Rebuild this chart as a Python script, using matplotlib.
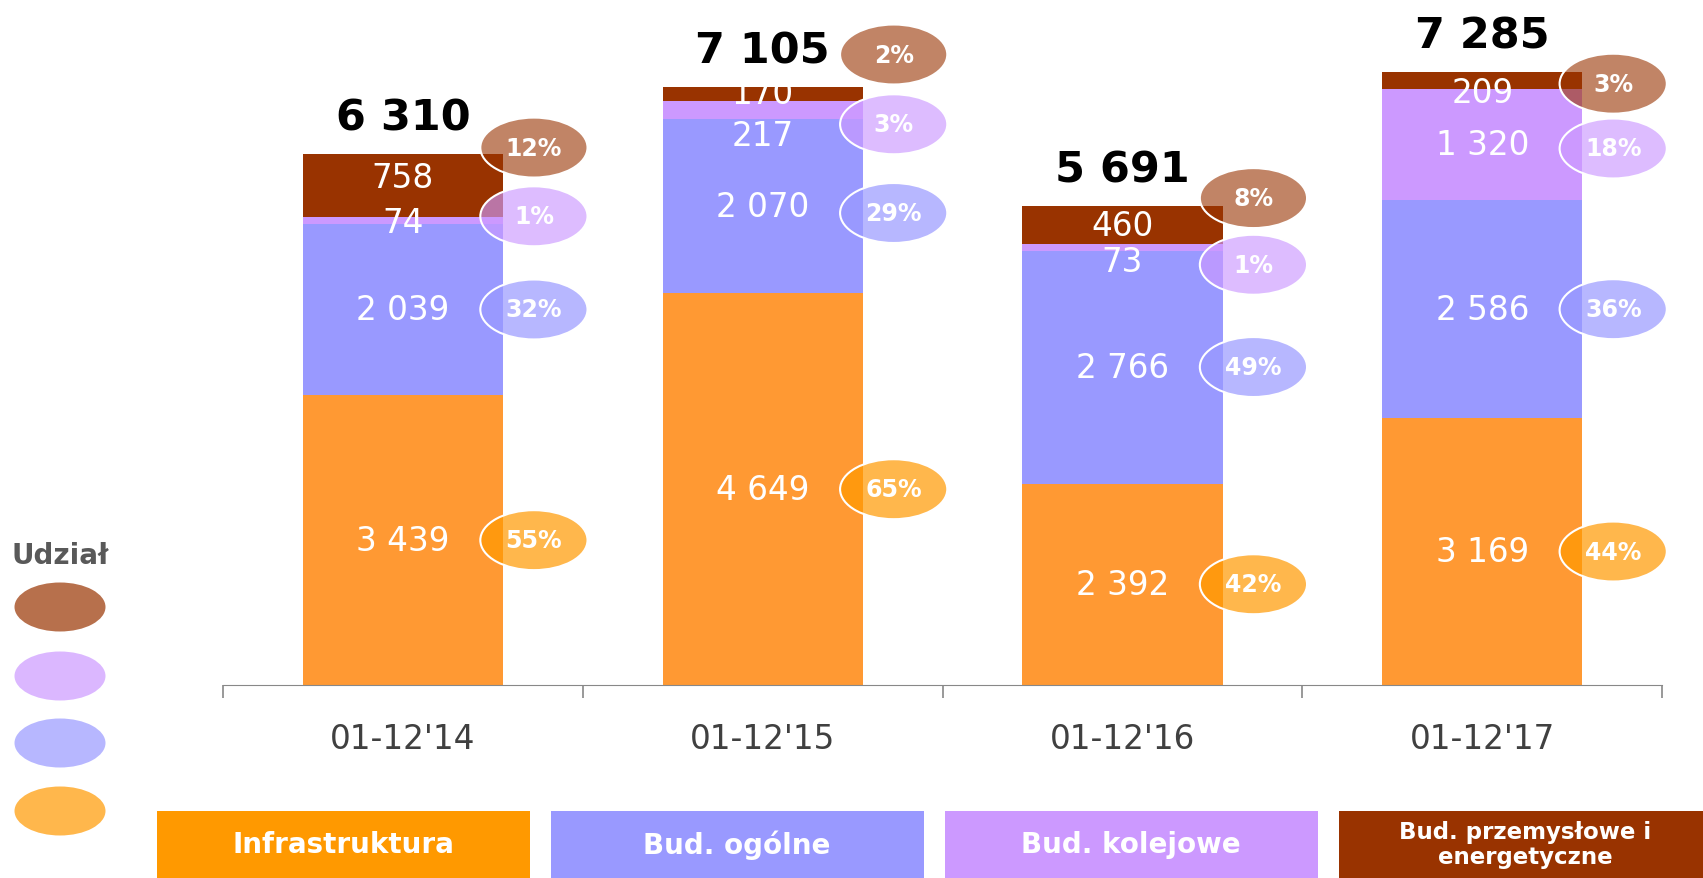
import numpy as np
import matplotlib.pyplot as plt
from matplotlib.patches import Ellipse, Rectangle

periods = ["01-12'14", "01-12'15", "01-12'16", "01-12'17"]
segments = ['Infrastruktura', 'Bud. ogólne', 'Bud. kolejowe', 'Bud. przemysłowe i\nenergetyczne']
infra = [3439, 4649, 2392, 3169]
ogolne = [2039, 2070, 2766, 2586]
kolejowe = [74, 217, 73, 1320]
energ = [758, 170, 460, 209]
totals = [6310, 7105, 5691, 7285]
shares = [[55, 65, 42, 44],
          [32, 29, 49, 36],
          [1, 3, 1, 18],
          [12, 2, 8, 3]]

bar_cols = ['#FF9933', '#9999FF', '#CC99FF', '#993300']
bub_cols = ['#FF9900', '#9999FF', '#CC99FF', '#993300']
bub_alpha = [0.7, 0.7, 0.65, 0.6]

# manual nudges (data units) so small segments don't collide
lab_shift = [[0, 0, 0, 0], [0, 0, 0, 0], [-25, -300, -170, 0], [90, 0, 0, -140]]
bub_shift = [[0, 0, 0, 0], [0, -80, 0, 0], [50, -170, -205, -45], [450, 465, 320, -40]]

def fmt(v):
    return '{:,}'.format(v).replace(',', ' ')

fig = plt.figure(figsize=(17.03, 8.79), dpi=100)
ax = fig.add_axes([0.131, 0.2196, 0.845, 0.7804])

x = np.arange(len(periods))
w = 0.556
data = [infra, ogolne, kolejowe, energ]
bottom = np.zeros(len(periods))
for k, vals in enumerate(data):
    vals = np.array(vals)
    ax.bar(x, vals, w, bottom=bottom, color=bar_cols[k], zorder=2)
    for i in range(len(periods)):
        mid = bottom[i] + vals[i] / 2
        ax.text(x[i], mid + lab_shift[k][i], fmt(vals[i]), ha='center', va='center',
                color='white', fontsize=23.5, zorder=3)
        cy = mid + bub_shift[k][i]
        ax.add_patch(Ellipse((x[i] + 0.364, cy), 0.298, 712, facecolor=bub_cols[k],
                             alpha=bub_alpha[k], edgecolor='none', zorder=4, clip_on=False))
        ax.add_patch(Ellipse((x[i] + 0.364, cy), 0.298, 712, facecolor='none',
                             edgecolor='white', lw=1.5, zorder=4, clip_on=False))
        ax.text(x[i] + 0.364, cy, '%d%%' % shares[k][i], ha='center', va='center',
                color='white', fontsize=17, fontweight='bold', zorder=5, clip_on=False)
    bottom += vals

for i, t in enumerate(totals):
    ax.annotate(fmt(t), (x[i], t), xytext=(0, 11), textcoords='offset points',
                ha='center', va='bottom', fontsize=31, fontweight='bold', color='black')

ax.set_xlim(-0.5, 3.5)
ax.set_ylim(0, 8145)
for s in ['top', 'right', 'left']:
    ax.spines[s].set_visible(False)
ax.spines['bottom'].set_color('#888888')
ax.set_yticks([])
ax.set_xticks(x)
ax.set_xticklabels(periods, fontsize=23.5, color='#404040')
ax.tick_params(axis='x', length=0, pad=27)
ax.set_xticks(np.arange(-0.5, 4, 1), minor=True)
ax.tick_params(axis='x', which='minor', length=9, color='#888888', width=1.2)

# left-hand "Udział" legend
fig.text(11 / 1703, 1 - 556 / 879, 'Udział', fontsize=20, fontweight='bold',
         color='#595959', ha='left', va='center')
for k, yc in zip([3, 2, 1, 0], [608, 677, 744, 812]):
    fig.patches.append(Ellipse((60 / 1703, 1 - yc / 879), 91 / 1703, 49 / 879,
                               transform=fig.transFigure, facecolor=bub_cols[k],
                               alpha=0.7, edgecolor='none'))

# bottom colour boxes
box_x = [157, 551, 945, 1339]
for k in range(4):
    fig.patches.append(Rectangle((box_x[k] / 1703, 0), 373 / 1703, 67 / 879,
                                 transform=fig.transFigure, facecolor=bub_cols[k],
                                 edgecolor='none'))
    fs = 20 if k < 3 else 16.5
    fig.text((box_x[k] + 186) / 1703, 34 / 879, segments[k], ha='center', va='center',
             color='white', fontsize=fs, fontweight='bold', linespacing=1.1)

fig.savefig('out.png', dpi=100)
